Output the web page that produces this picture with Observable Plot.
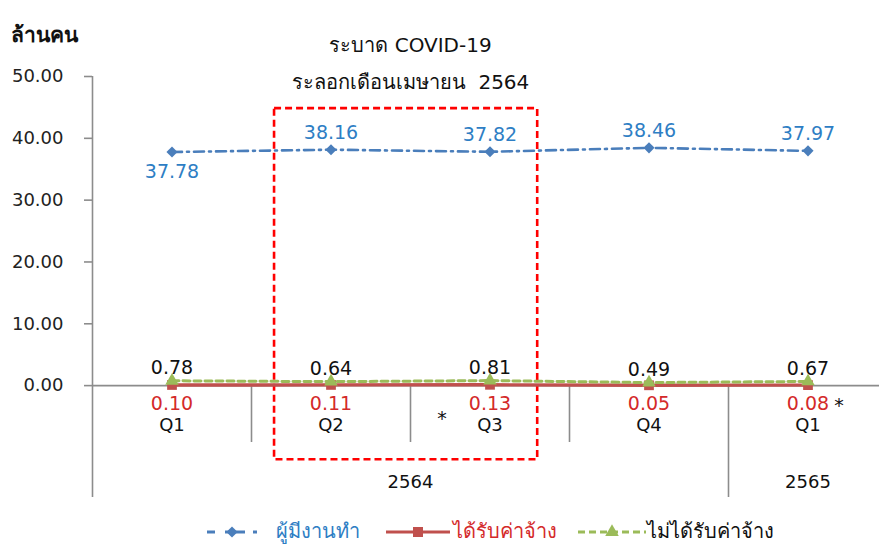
<!DOCTYPE html>
<html><head><meta charset="utf-8">
<script src="https://cdn.jsdelivr.net/npm/d3@7"></script>
<script src="https://cdn.jsdelivr.net/npm/@observablehq/plot@0.6"></script>
<style>
body{margin:0;background:#fff;font-family:"DejaVu Sans",sans-serif;}
#wrap{position:relative;width:879px;height:548px;overflow:hidden}
#chart svg{display:block;overflow:visible}
#legend{position:absolute;left:0;top:515px;width:879px;height:33px}
.sw{position:absolute;top:6px}
.lt{position:absolute;top:0;height:33px;line-height:33px;font-size:20px;white-space:nowrap}
</style></head><body><div id="wrap"><div id="chart"></div><div id="legend"></div></div>
<script>
// ---- data ----
const quarters = ["Q1", "Q2", "Q3", "Q4", "Q1"];
const years = ["2564", "2564", "2564", "2564", "2565"];
const employed = [37.78, 38.16, 37.82, 38.46, 37.97];
const paid = [0.10, 0.11, 0.13, 0.05, 0.08];
const unpaid = [0.78, 0.64, 0.81, 0.49, 0.67];
const yTicks = [0, 10, 20, 30, 40, 50];
const seriesNames = ["ผู้มีงานทำ", "ได้รับค่าจ้าง", "ไม่ได้รับค่าจ้าง"];
const titleLines = ["ระบาด COVID-19", "ระลอกเดือนเมษายน  2564"];
const yUnit = "ล้านคน";
const highlightQuarters = [1, 2];   // Q2–Q3 2564 outlined
const footnoteQuarters = [2, 4];    // quarters marked with *

// ---- styles ----
const C = {blue: "#4a7ebb", red: "#c0504d", green: "#9bbb59", axis: "#8c8c8c",
           blueText: "#2e7ec4", redText: "#d42a2a", box: "#ff0000"};
const FONT = "DejaVu Sans, sans-serif";

const rows = quarters.map((q, i) => ({i, q, year: years[i], employed: employed[i], paid: paid[i], unpaid: unpaid[i]}));
const yearGroups = d3.groups(rows, d => d.year).map(([y, g]) => ({year: y, mid: d3.mean(g, d => d.i)}));
const boundaries = rows.slice(1).map((d, k) => ({x: d.i - 0.5, long: d.year !== rows[k].year}));
const yMin = -18.1, yMax = 50;

const chart = Plot.plot({
  width: 879, height: 515,
  marginLeft: 92, marginRight: 0, marginTop: 76, marginBottom: 18,
  style: {fontFamily: FONT, fontSize: "18px", color: "#222", background: "transparent"},
  x: {domain: [-0.5, quarters.length - 0.5], range: [92, 887], axis: null},
  y: {domain: [yMin, yMax], range: [497, 76], axis: null},
  marks: [
    // y axis line, ticks and labels
    Plot.ruleX([-0.5], {y1: yMin, y2: yMax, stroke: C.axis, strokeWidth: 1.6}),
    Plot.axisY(yTicks, {tickSize: 8, tickFormat: () => "", stroke: C.axis, strokeWidth: 1.6}),
    Plot.axisY(yTicks, {tickSize: 0, tickPadding: 29, tickFormat: d3.format(".2f"), fill: "#222", stroke: "none", fontWeight: "normal", fontSize: 18}),
    // category baseline and separators
    Plot.ruleY([0], {x1: -0.5, x2: quarters.length - 0.5, stroke: C.axis, strokeWidth: 1.6}),
    Plot.ruleX(boundaries, {x: "x", y1: 0, y2: d => d.long ? yMin : -9.2, stroke: C.axis, strokeWidth: 1.6}),
    // category labels
    Plot.text(rows, {x: "i", y: 0, dy: 40, text: "q", fontSize: 18, fill: "#111"}),
    Plot.text(yearGroups, {x: "mid", y: 0, dy: 97, text: "year", fontSize: 18, fill: "#111"}),
    Plot.text([footnoteQuarters[0]], {x: d => d, y: 0, text: () => "*", dx: -48, dy: 33, fontSize: 19, fill: "#111"}),
    Plot.text([footnoteQuarters[1]], {x: d => d, y: 0, text: () => "*", dx: 31, dy: 20, fontSize: 19, fill: "#111"}),
    // highlight box
    Plot.rect([highlightQuarters], {x1: d => d[0] - 0.355, x2: d => d[1] + 0.30, y1: -12, y2: 44.8,
      fill: "none", stroke: C.box, strokeWidth: 2.6, strokeDasharray: "7,4"}),
    // titles
    Plot.text([titleLines[0]], {x: yearGroups[0].mid, y: yMax, dy: -31, text: d => d, fontSize: 20, fill: "#111"}),
    Plot.text([titleLines[1]], {x: yearGroups[0].mid, y: yMax, dy: 6, text: d => d, fontSize: 20, fill: "#111"}),
    Plot.text([yUnit], {frameAnchor: "top-left", dx: -82, dy: -49, text: d => d, textAnchor: "start", fontSize: 21, fontWeight: "bold", fill: "#111"}),
    // series: employed
    Plot.line(rows, {x: "i", y: "employed", stroke: C.blue, strokeWidth: 2.6, strokeDasharray: "10,5,2,5"}),
    Plot.dot(rows, {x: "i", y: "employed", symbol: "diamond2", r: 5, fill: C.blue, stroke: "none"}),
    // series: paid
    Plot.line(rows, {x: "i", y: "paid", stroke: C.red, strokeWidth: 3.4}),
    Plot.dot(rows, {x: "i", y: "paid", symbol: "square", r: 5.5, fill: C.red, stroke: "none"}),
    // series: unpaid
    Plot.line(rows, {x: "i", y: "unpaid", stroke: C.green, strokeWidth: 3, strokeDasharray: "7,4"}),
    Plot.dot(rows, {x: "i", y: "unpaid", symbol: "triangle", r: 5, fill: C.green, stroke: "none"}),
    // value labels
    Plot.text(rows, {filter: d => d.i === 0, x: "i", y: "employed", text: d => d.employed.toFixed(2), dy: 20, fill: C.blueText, fontSize: 19}),
    Plot.text(rows, {filter: d => d.i !== 0, x: "i", y: "employed", text: d => d.employed.toFixed(2), dy: -17, fill: C.blueText, fontSize: 19}),
    Plot.text(rows, {x: "i", y: "unpaid", text: d => d.unpaid.toFixed(2), dy: -13, fill: "#111", fontSize: 19}),
    Plot.text(rows, {x: "i", y: "paid", text: d => d.paid.toFixed(2), dy: 19, fill: C.redText, fontSize: 19})
  ]
});
document.getElementById("chart").appendChild(chart);

// ---- legend ----
const legendSpec = [
  {name: seriesNames[0], color: C.blue, text: C.blueText, dash: "8,10,20", symbol: d3.symbolDiamond2, size: 80, sw: 207, sww: 50, tx: 276},
  {name: seriesNames[1], color: C.red, text: C.redText, dash: null, symbol: d3.symbolSquare, size: 100, sw: 386, sww: 64, tx: 453},
  {name: seriesNames[2], color: C.green, text: "#111", dash: "7,4", symbol: d3.symbolTriangle, size: 80, sw: 578, sww: 68, tx: 647}
];
const leg = d3.select("#legend");
for (const s of legendSpec) {
  const svg = leg.append("svg").attr("class", "sw").style("left", s.sw + "px").attr("width", s.sww).attr("height", 22);
  svg.append("line").attr("x1", 0).attr("x2", s.sww).attr("y1", 11).attr("y2", 11)
    .attr("stroke", s.color).attr("stroke-width", 3).attr("stroke-dasharray", s.dash);
  svg.append("path").attr("d", d3.symbol(s.symbol, s.size)()).attr("transform", `translate(${s.sww / 2},11)`).attr("fill", s.color);
  leg.append("div").attr("class", "lt").style("left", s.tx + "px").style("color", s.text).text(s.name);
}
</script></body></html>
